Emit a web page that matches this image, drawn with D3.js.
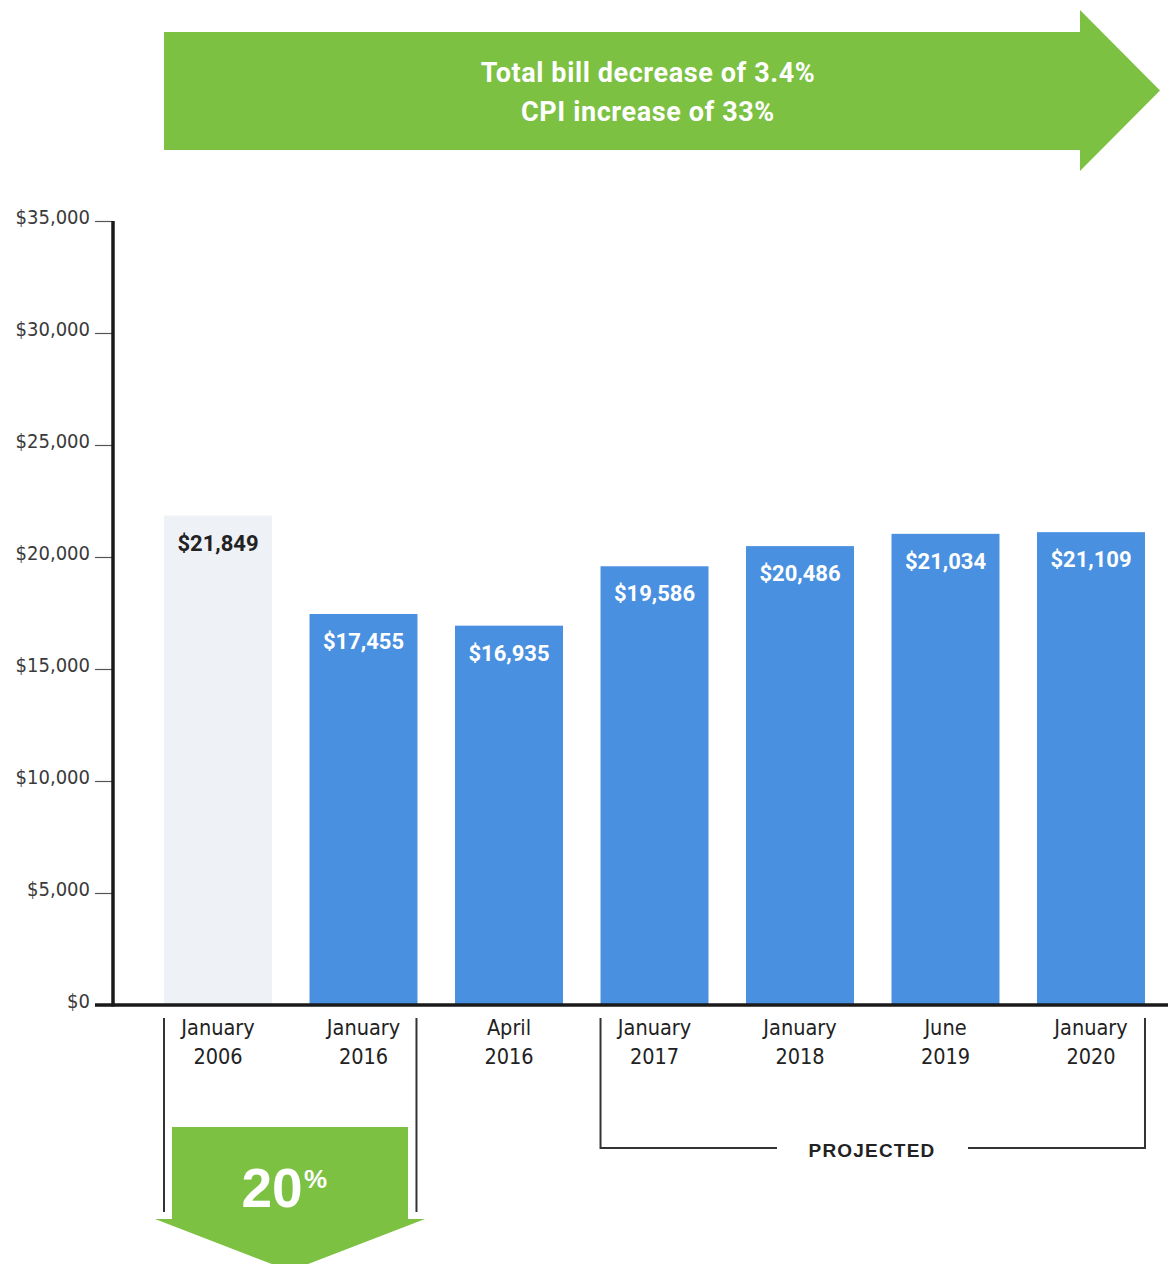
<!DOCTYPE html>
<html>
<head>
<meta charset="utf-8">
<script src="https://cdn.jsdelivr.net/npm/d3@7"></script>
<style>
  html, body { margin: 0; padding: 0; background: #ffffff; }
  svg { display: block; }
</style>
</head>
<body>
<svg id="chart" width="1173" height="1264"></svg>
<script>
// Monthly bill data
const monthLabels = ["January", "January", "April", "January", "January", "June", "January"];
const yearLabels  = ["2006", "2016", "2016", "2017", "2018", "2019", "2020"];
const billValues  = [21849, 17455, 16935, 19586, 20486, 21034, 21109];
const yTicks      = [0, 5000, 10000, 15000, 20000, 25000, 30000, 35000];
const headlineLines = ["Total bill decrease of 3.4%", "CPI increase of 33%"];
const dropLabel   = "20";
const projectedLabel = "PROJECTED";

const GREEN = "#7cc142";
const BLUE = "#4a90e0";
const BASE_BAR = "#eef1f6";
const INK = "#222222";
const NARROW = '"DejaVu Sans Condensed", "Liberation Sans Narrow", "Arial Narrow", sans-serif';
const BOLD_FONT = 'Roboto, "Liberation Sans", Arial, sans-serif';

const svg = d3.select("#chart");

const y = d3.scaleLinear().domain([0, 35000]).range([1005, 221]);
const x = d3.scaleBand()
  .domain(d3.range(billValues.length))
  .range([145.25, 1163.75])
  .paddingInner(0.258)
  .paddingOuter(0.129);

// Headline arrow across the top
const arrowX0 = x(0), shaftTop = 32, shaftBot = 150, headX = 1080, headTop = 10, headBot = 171, tipX = 1160;
svg.append("path")
  .attr("d", d3.line()([
    [arrowX0, shaftTop], [headX, shaftTop], [headX, headTop], [tipX, (headTop + headBot) / 2],
    [headX, headBot], [headX, shaftBot], [arrowX0, shaftBot]
  ]) + "Z")
  .attr("fill", GREEN);

svg.append("g").selectAll("text").data(headlineLines).join("text")
  .attr("x", 648)
  .attr("y", (d, i) => 82 + i * 39)
  .attr("text-anchor", "middle")
  .attr("fill", "#ffffff")
  .attr("font-family", BOLD_FONT)
  .attr("font-weight", "bold")
  .attr("font-size", 27)
  .attr("letter-spacing", 0.6)
  .text(d => d);

// Bars
svg.append("g").selectAll("rect").data(billValues).join("rect")
  .attr("x", (d, i) => x(i))
  .attr("y", d => y(d))
  .attr("width", x.bandwidth())
  .attr("height", d => y(0) - y(d))
  .attr("fill", (d, i) => i === 0 ? BASE_BAR : BLUE);

// Value labels inside bars
svg.append("g").selectAll("text").data(billValues).join("text")
  .attr("x", (d, i) => x(i) + x.bandwidth() / 2)
  .attr("y", d => y(d) + 35)
  .attr("text-anchor", "middle")
  .attr("fill", (d, i) => i === 0 ? INK : "#ffffff")
  .attr("font-family", BOLD_FONT)
  .attr("font-weight", "bold")
  .attr("font-size", 22)
  .text(d => d3.format("$,")(d));

// Y axis
const yAxis = d3.axisLeft(y)
  .tickValues(yTicks)
  .tickFormat(d3.format("$,"))
  .tickSize(18)
  .tickPadding(5);

const yG = svg.append("g").attr("transform", "translate(113,0)").call(yAxis);
yG.select(".domain").remove();
yG.selectAll(".tick line").attr("stroke", "#555").attr("stroke-width", 1.2);
yG.selectAll(".tick text")
  .attr("fill", "#3a3a3a")
  .attr("font-family", NARROW)
  .attr("font-size", 20)
  .attr("dy", "0.1em");

// Axis lines
svg.append("line")
  .attr("x1", 113).attr("x2", 113)
  .attr("y1", y(35000)).attr("y2", y(0) + 1.5)
  .attr("stroke", "#1a1a1a").attr("stroke-width", 3.5);
svg.append("line")
  .attr("x1", 95).attr("x2", 1168)
  .attr("y1", y(0)).attr("y2", y(0))
  .attr("stroke", "#1a1a1a").attr("stroke-width", 3.5);

// Category labels
const catG = svg.append("g").selectAll("text").data(billValues).join("text")
  .attr("text-anchor", "middle")
  .attr("fill", INK)
  .attr("font-family", NARROW)
  .attr("font-size", 21.5);
catG.append("tspan")
  .attr("x", (d, i) => x(i) + x.bandwidth() / 2)
  .attr("y", 1035)
  .text((d, i) => monthLabels[i]);
catG.append("tspan")
  .attr("x", (d, i) => x(i) + x.bandwidth() / 2)
  .attr("y", 1064)
  .text((d, i) => yearLabels[i]);

// Bracket around the 2006 → 2016 change
const bracketStroke = "#333";
const bL = x(0), bR = x(1) + x.bandwidth() - 1;
[bL, bR].forEach(bx => {
  svg.append("line")
    .attr("x1", bx).attr("x2", bx)
    .attr("y1", 1018).attr("y2", 1212)
    .attr("stroke", bracketStroke).attr("stroke-width", 2);
});

// Down arrow showing the 20% drop
const boxL = 172, boxR = 408, boxTop = 1127, headY = 1219, wingL = 155, wingR = 425, downTip = 1271;
svg.append("path")
  .attr("d", d3.line()([
    [boxL, boxTop], [boxR, boxTop], [boxR, headY], [wingR, headY],
    [(wingL + wingR) / 2, downTip], [wingL, headY], [boxL, headY]
  ]) + "Z")
  .attr("fill", GREEN);

svg.append("text")
  .attr("x", 272)
  .attr("y", 1207)
  .attr("text-anchor", "middle")
  .attr("fill", "#ffffff")
  .attr("font-family", '"Liberation Sans", Arial, sans-serif')
  .attr("font-weight", "bold")
  .attr("font-size", 55)
  .text(dropLabel);
svg.append("text")
  .attr("x", 304)
  .attr("y", 1188)
  .attr("fill", "#ffffff")
  .attr("font-family", '"Liberation Sans", Arial, sans-serif')
  .attr("font-weight", "bold")
  .attr("font-size", 26)
  .text("%");

// Projected bracket
const pL = x(3), pR = x(6) + x.bandwidth(), pY = 1148, pMid = 872;
svg.append("path")
  .attr("d", d3.line()([[pL, 1018], [pL, pY], [pMid - 95, pY]]))
  .attr("fill", "none").attr("stroke", bracketStroke).attr("stroke-width", 2);
svg.append("path")
  .attr("d", d3.line()([[pMid + 96, pY], [pR, pY], [pR, 1018]]))
  .attr("fill", "none").attr("stroke", bracketStroke).attr("stroke-width", 2);
svg.append("text")
  .attr("x", pMid)
  .attr("y", 1157)
  .attr("text-anchor", "middle")
  .attr("fill", INK)
  .attr("font-family", '"Liberation Sans", Arial, sans-serif')
  .attr("font-weight", "bold")
  .attr("font-size", 19)
  .attr("letter-spacing", 1.2)
  .text(projectedLabel);
</script>
</body>
</html>
